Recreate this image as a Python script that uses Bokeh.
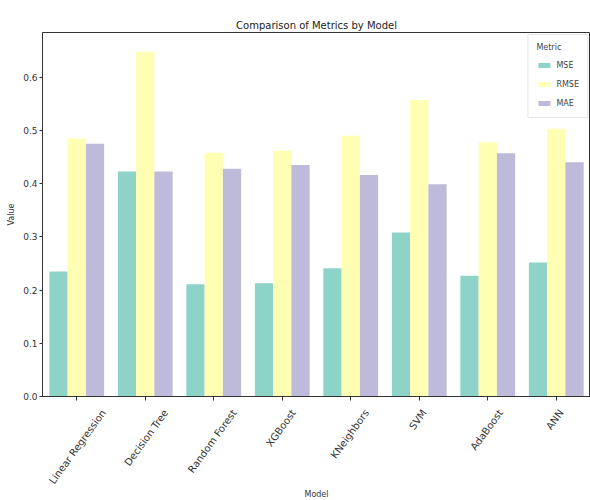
import math
from bokeh.plotting import figure
from bokeh.layouts import column
from bokeh.models import ColumnDataSource, FactorRange, Range1d, Legend, LegendItem, FixedTicker
from bokeh.core.properties import value
from bokeh.transform import dodge
from bokeh.embed import file_html
from bokeh.resources import INLINE

models = ["Linear Regression", "Decision Tree", "Random Forest", "XGBoost",
          "KNeighbors", "SVM", "AdaBoost", "ANN"]
mse = [0.235, 0.423, 0.211, 0.213, 0.241, 0.308, 0.227, 0.252]
rmse = [0.485, 0.648, 0.458, 0.462, 0.490, 0.557, 0.478, 0.503]
mae = [0.475, 0.423, 0.428, 0.435, 0.416, 0.399, 0.457, 0.440]
metrics = ["MSE", "RMSE", "MAE"]
colors = ["#8dd3c7", "#ffffb3", "#bebada"]
y_ticks = [0.0, 0.1, 0.2, 0.3, 0.4, 0.5, 0.6]

FONT = "DejaVu Sans"
TXT = "#333333"
src = ColumnDataSource(dict(model=models, MSE=mse, RMSE=rmse, MAE=mae))

p = figure(width=590, height=402, x_range=FactorRange(*models),
           y_range=Range1d(0, 0.684), output_backend="svg", toolbar_location=None,
           title="Comparison of Metrics by Model",
           min_border_left=42, min_border_right=0, min_border_top=32, min_border_bottom=6)

bw = 0.8 / 3
items = []
for i, (m, c) in enumerate(zip(metrics, colors)):
    r = p.vbar(x=dodge("model", (i - 1) * bw, range=p.x_range), top=m, width=bw,
               source=src, fill_color=c, line_color=None)
    items.append(LegendItem(label=m, renderers=[r]))

p.title.text_font = FONT
p.title.text_font_size = "10px"
p.title.text_font_style = "normal"
p.title.align = "center"
p.title.text_color = "#222222"
p.title.standoff = 4

p.xgrid.grid_line_color = None
p.ygrid.grid_line_color = None
p.outline_line_color = TXT
p.outline_line_width = 1
p.background_fill_color = "white"

p.yaxis.ticker = FixedTicker(ticks=y_ticks)
p.yaxis.major_label_overrides = {t: f"{t:.1f}" for t in y_ticks}
p.yaxis.minor_tick_line_color = None
p.yaxis.major_tick_out = 3
p.yaxis.major_tick_in = 0
p.yaxis.axis_line_color = TXT
p.yaxis.major_tick_line_color = TXT
p.yaxis.major_label_text_font = FONT
p.yaxis.major_label_text_font_size = "9px"
p.yaxis.major_label_text_color = TXT
p.yaxis.major_label_standoff = 2
p.yaxis.axis_label = "Value"
p.yaxis.axis_label_text_font = FONT
p.yaxis.axis_label_text_font_size = "8px"
p.yaxis.axis_label_text_font_style = "normal"
p.yaxis.axis_label_text_color = TXT
p.yaxis.axis_label_standoff = 4

# x axis: ticks only; category labels are drawn in the strip below
p.xaxis.major_tick_out = 4
p.xaxis.major_tick_in = 0
p.xaxis.axis_line_color = TXT
p.xaxis.major_tick_line_color = TXT
p.xaxis.major_label_text_color = None
p.xaxis.major_label_text_font_size = "1px"
p.xaxis.major_label_standoff = 0

legend = Legend(items=items, location="top_right", title="Metric")
legend.title_text_font = FONT
legend.title_text_font_size = "8px"
legend.title_text_font_style = "normal"
legend.title_standoff = 7
legend.label_text_font = FONT
legend.label_text_font_size = "8px"
legend.label_height = 12
legend.label_standoff = 5
legend.glyph_height = 6
legend.glyph_width = 15
legend.spacing = 7
legend.padding = 8
legend.margin = 2
legend.border_line_color = "#cccccc"
legend.background_fill_alpha = 0.8
p.add_layout(legend)

# strip below with rotated category labels centred under the ticks, and "Model"
lab_px = 10
ang = math.radians(54)
xoff = [(len(m) * 0.53 * lab_px * math.cos(ang) - lab_px * math.sin(ang)) / 2 for m in models]
lab_src = ColumnDataSource(dict(model=models, y=[-5] * len(models), xoff=xoff))

p2 = figure(width=590, height=98, x_range=p.x_range, y_range=Range1d(-84, 0),
            output_backend="svg", toolbar_location=None,
            x_axis_location=None, y_axis_location=None,
            min_border_left=42, min_border_right=0, min_border_top=0, min_border_bottom=14,
            title="Model", title_location="below")
p2.outline_line_color = None
p2.xgrid.grid_line_color = None
p2.ygrid.grid_line_color = None
p2.text(x="model", y="y", text="model", x_offset="xoff", source=lab_src, angle=ang,
        text_align="right", text_baseline="top", text_font=value(FONT),
        text_font_size=f"{lab_px}px", text_color=TXT)
p2.title.text_font = FONT
p2.title.text_font_size = "8px"
p2.title.text_font_style = "normal"
p2.title.align = "center"
p2.title.text_color = TXT
p2.title.standoff = 2

layout = column(p, p2, spacing=0)
open("out.html", "w").write(file_html(layout, INLINE))
